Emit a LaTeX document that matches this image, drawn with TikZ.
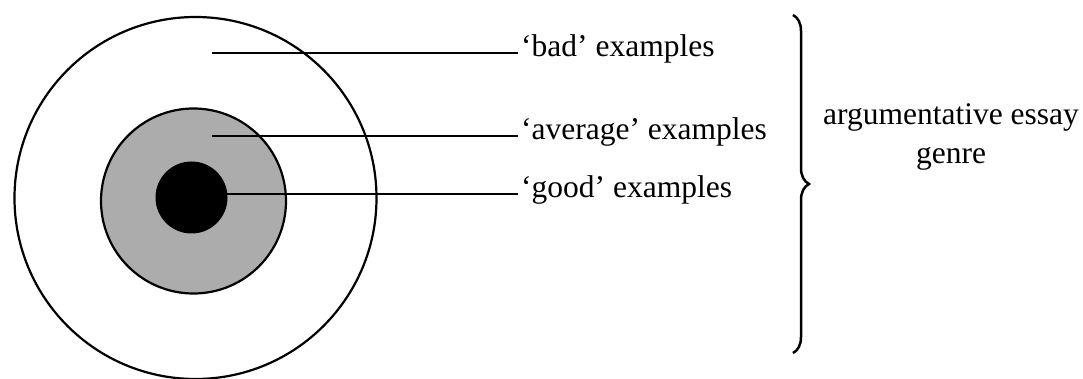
\documentclass[tikz,border=0pt]{standalone}
\usepackage{fontspec}
\setmainfont{Liberation Serif}
\usetikzlibrary{decorations.pathreplacing}
\definecolor{midgray}{RGB}{172,172,172}
\tikzset{
  lbl/.style={font=\fontsize{31.5}{39}\selectfont, inner xsep=3pt, inner ysep=0pt},
  ring/.style={circle, draw=black, line width=2.2pt, inner sep=0pt},
  leader/.style={line width=2.2pt},
  bracestyle/.style={decorate, decoration={brace, amplitude=16pt}, line width=2.5pt}
}
\begin{document}
\begin{tikzpicture}[x=1pt,y=-1pt]
\useasboundingbox (0,0) rectangle (1083,379);
\node[ring, minimum size=362pt] (outer) at (195.5,198) {};
\node[ring, fill=midgray, minimum size=185pt] (middle) at (193.5,201) {};
\node[circle, fill=black, inner sep=0pt, minimum size=72pt] (core) at (191.5,197.5) {};
% labels
\node[lbl, anchor=base west] (bad) at (518,57) {‘bad’ examples};
\node[lbl, anchor=base west] (avg) at (518,140) {‘average’ examples};
\node[lbl, anchor=base west] (good) at (518,198) {‘good’ examples};
\coordinate (pb) at (212,53);
\coordinate (pa) at (212,136);
\coordinate (pg) at (226,194);
\draw[leader] (pb) -- (pb -| bad.west);
\draw[leader] (pa) -- (pa -| avg.west);
\draw[leader] (pg) -- (pg -| good.west);
% brace
\coordinate (bt) at (793,15);
\coordinate (bb) at (793,353);
\draw[bracestyle] (bt) -- (bb);
\node[lbl, align=center, anchor=base] (genre) at (951,164) {argumentative essay\\genre};
\end{tikzpicture}
\end{document}
